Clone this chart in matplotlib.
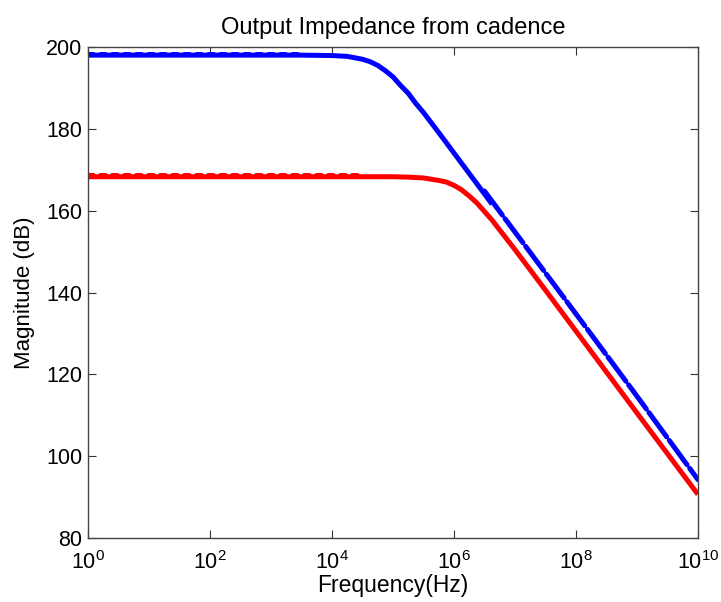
import matplotlib
matplotlib.use('Agg')
import matplotlib.pyplot as plt
import numpy as np

plt.rcParams['font.family'] = ['Liberation Sans', 'DejaVu Sans']
plt.rcParams['mathtext.fontset'] = 'custom'
plt.rcParams['mathtext.rm'] = 'Liberation Sans'
plt.rcParams['mathtext.it'] = 'Liberation Sans'

# frequency points (Hz)
freq = [1e0, 1e1, 1e2, 1e3, 10**3.5, 1e4, 10**4.25, 10**4.5, 10**4.625, 10**4.75,
        10**4.875, 1e5, 10**5.125, 10**5.25, 10**5.375, 10**5.5, 10**5.75, 10**5.875,
        1e6, 10**6.125, 10**6.25, 10**6.375, 10**6.5, 10**6.625, 10**6.75, 1e7,
        10**7.5, 1e8, 1e9, 1e10]

# blue curve (dB)
blue_mag = [198.0, 198.0, 198.0, 198.0, 198.0, 197.9, 197.7, 197.0, 196.4, 195.5,
            194.2, 192.7, 190.6, 188.7, 186.2, 184.0, 179.1, 176.6,
            174.1, 171.6, 169.1, 166.6, 164.1, 161.6, 159.1, 154.1,
            144.1, 134.1, 114.0, 93.6]

# red curve (dB)
red_mag = [168.3, 168.3, 168.3, 168.3, 168.3, 168.3, 168.3, 168.3, 168.3, 168.3,
           168.3, 168.3, 168.25, 168.2, 168.1, 168.0, 167.4, 167.0,
           166.2, 165.1, 163.6, 161.9, 159.8, 157.7, 155.3, 150.5,
           140.6, 130.6, 110.6, 90.7]

freq = np.array(freq)
blue_mag = np.array(blue_mag)
red_mag = np.array(red_mag)

fig = plt.figure(figsize=(7.21, 6.02), dpi=100)
ax = fig.add_axes([0.122, 0.106, 0.846, 0.816])

lw = 3.6
hatch = (0, (1.0, 1.4))

# red
ax.semilogx(freq, red_mag, color='red', lw=lw, solid_capstyle='butt')
m = freq <= 10**4.5
ax.semilogx(freq[m], red_mag[m] + 0.35, color='red', lw=lw,
            linestyle=hatch, dash_capstyle='round')

# blue
m = freq <= 10**6.625
ax.semilogx(freq[m], blue_mag[m], color='blue', lw=lw, solid_capstyle='butt')
m = freq <= 10**3.75
ax.semilogx(freq[m], blue_mag[m] + 0.35, color='blue', lw=lw,
            linestyle=hatch, dash_capstyle='round')
m = freq >= 10**6.5
ax.semilogx(freq[m], blue_mag[m] + 0.7, color='blue', lw=lw,
            linestyle=(0, (6.0, 0.9)), dash_capstyle='round')

ax.set_xlim(1e0, 1e10)
ax.set_ylim(80, 200)
ax.set_xticks([1e0, 1e2, 1e4, 1e6, 1e8, 1e10])
ax.xaxis.set_minor_locator(matplotlib.ticker.NullLocator())
ax.set_yticks([80, 100, 120, 140, 160, 180, 200])
ax.tick_params(direction='in', top=True, right=True, length=6, width=0.8,
               labelsize=15.5, colors='#333333', labelcolor='black')
ax.tick_params(axis='x', pad=9)
ax.tick_params(axis='y', pad=4)
for s in ax.spines.values():
    s.set_color('#444444')
    s.set_linewidth(1.0)

ax.set_xlabel('Frequency(Hz)', fontsize=16.5, labelpad=0)
ax.set_ylabel('Magnitude (dB)', fontsize=16, labelpad=8)
ax.set_title('Output Impedance from cadence', fontsize=17, pad=9)

fig.savefig('out.png', dpi=100)
